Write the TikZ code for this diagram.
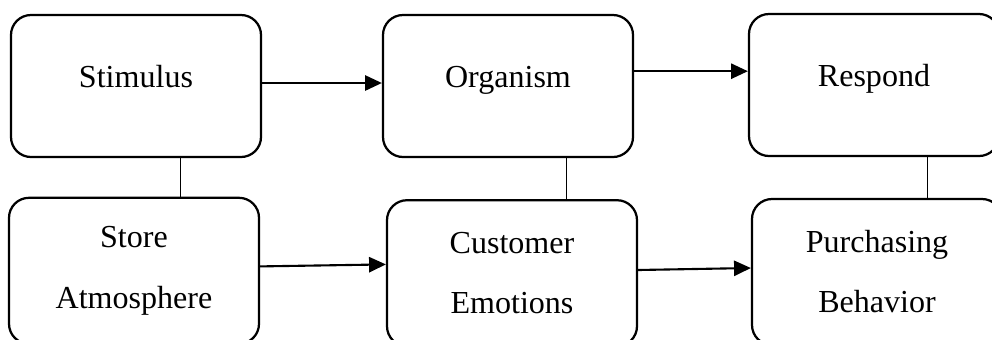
\documentclass[tikz,border=0pt]{standalone}
\usepackage{fontspec}
\setmainfont{Liberation Serif}
\usetikzlibrary{arrows.meta, positioning}

\begin{document}
\begin{tikzpicture}[
  box/.style={
    rectangle, draw=black, line width=1.6pt, rounded corners=0.5cm,
    minimum width=6.25cm, minimum height=3.55cm,
    font=\fontsize{22.8}{42.7}\selectfont, align=center, fill=white
  },
  topbox/.style={box, text height=0.55cm, text depth=0.5cm},
  lowbox/.style={box, minimum height=3.65cm},
  arrow/.style={-{Triangle[length=0.42cm, width=0.38cm]}, line width=1.5pt},
  link/.style={line width=0.7pt}
]
\clip (0,0) rectangle (24.8,-8.475);

% --- Row 0: S-O-R ---
\node[topbox] (stim) at (3.4,-2.15)   {Stimulus};
\node[topbox] (org)  at (12.7,-2.15)  {Organism};
\node[topbox] (resp) at (21.85,-2.125){Respond};

% --- Row 1: variables ---
\node[lowbox] (store) at (3.35,-6.77)  {Store\\Atmosphere};
\node[lowbox] (cust)  at (12.8,-6.83)  {Customer\\Emotions};
\node[lowbox] (purch) at (21.925,-6.8) {Purchasing\\Behavior};

% Links
\draw[link] ([xshift=1.1cm]stim.south)  -- ([xshift=1.1cm]stim.south |- store.north);
\draw[link] ([xshift=1.45cm]org.south)  -- ([xshift=1.45cm]org.south |- cust.north);
\draw[link] ([xshift=1.325cm]resp.south)-- ([xshift=1.325cm]resp.south |- purch.north);

% Arrows
\draw[arrow] ([yshift=0.075cm]stim.east) -- ([yshift=0.075cm]stim.east -| org.west);
\draw[arrow] ([yshift=0.37cm]org.east)   -- ([yshift=0.37cm]org.east -| resp.west);
\draw[arrow] ([yshift=0.11cm]store.east) -- ([yshift=0.22cm]cust.west);
\draw[arrow] ([yshift=0.08cm]cust.east)  -- ([yshift=0.1cm]purch.west);

\end{tikzpicture}
\end{document}
